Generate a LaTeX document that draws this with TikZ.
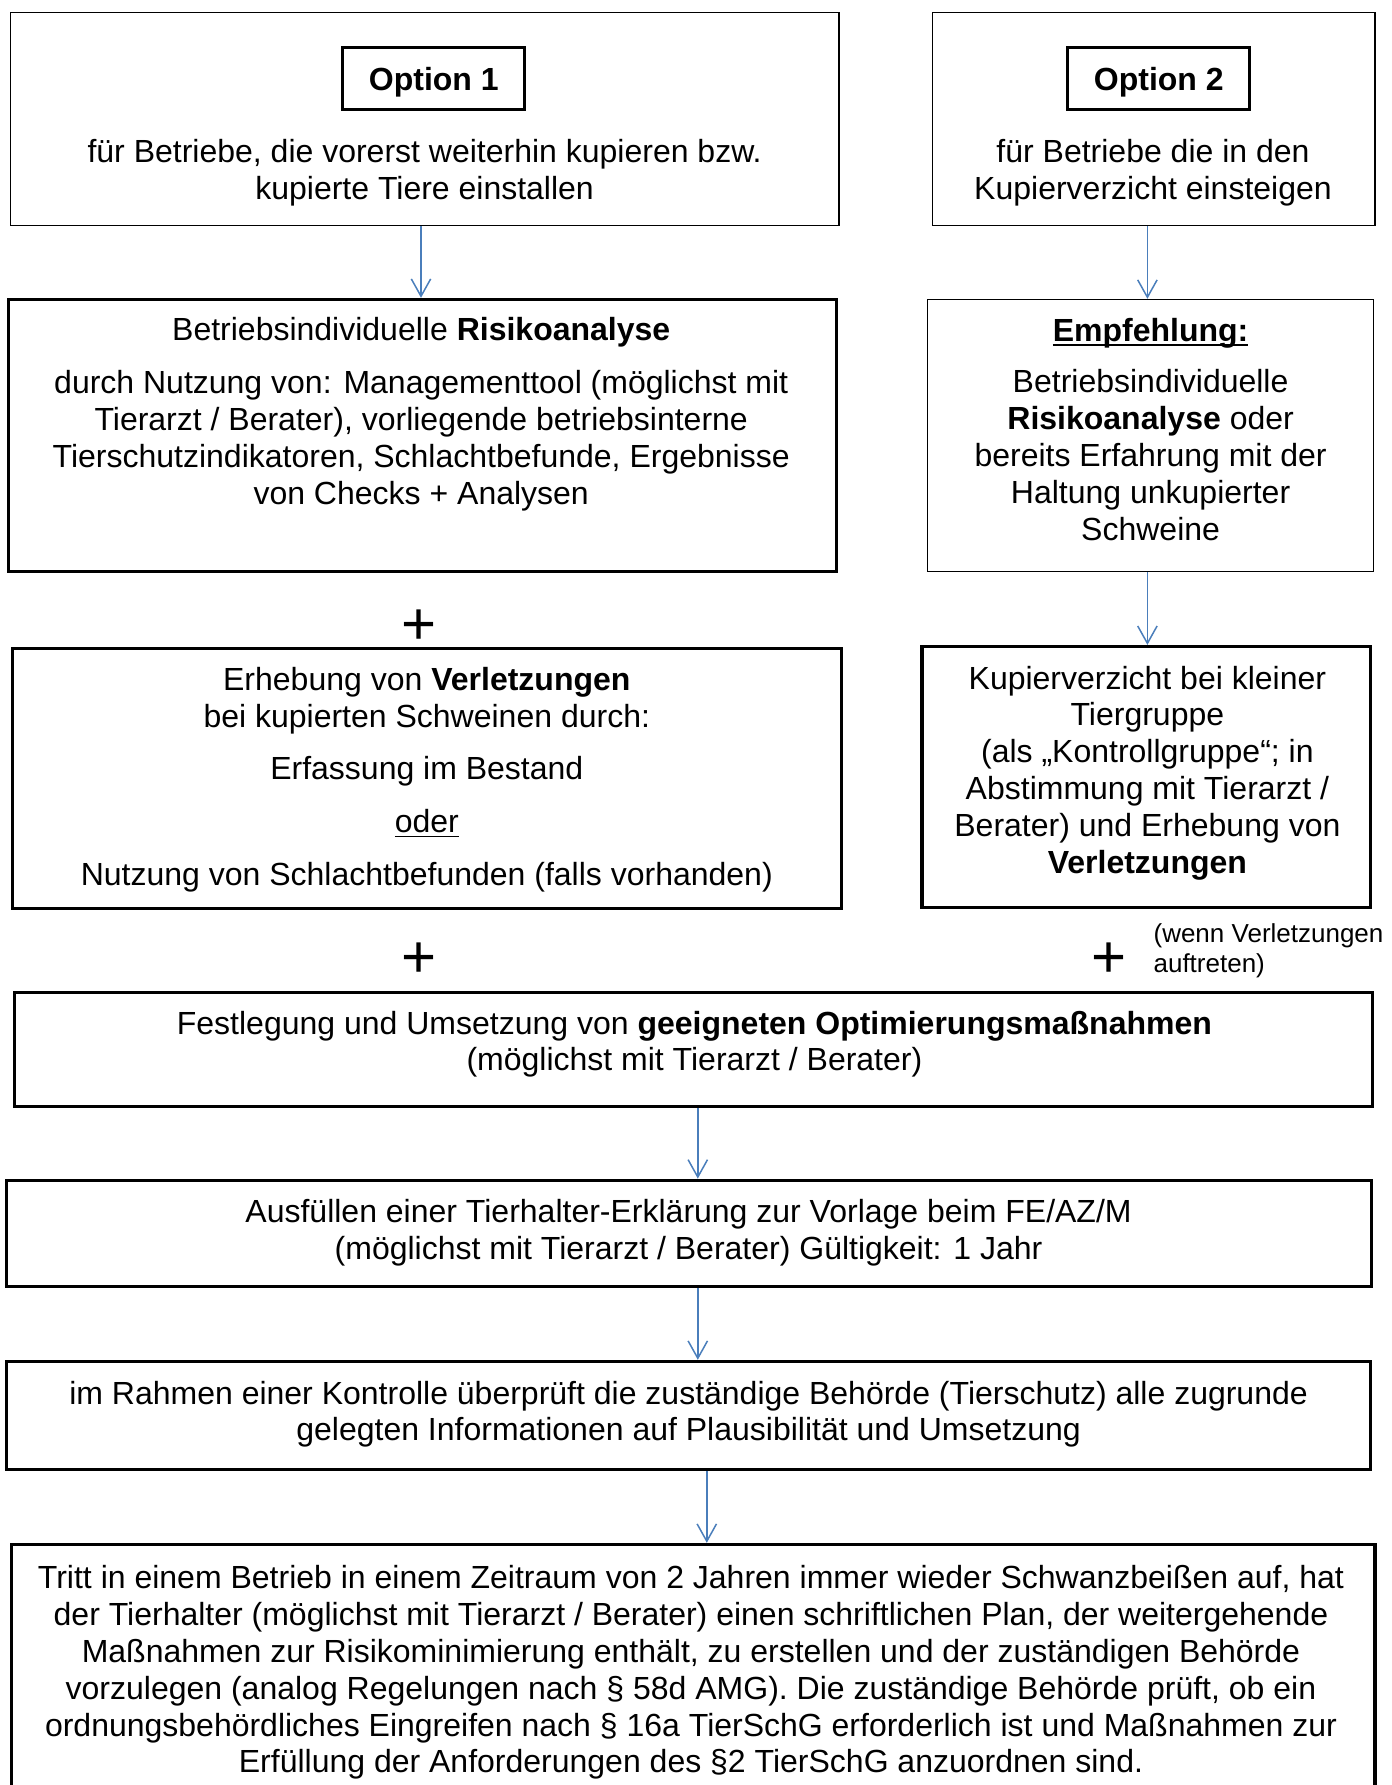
\documentclass[tikz,border=0pt]{standalone}
\usepackage{fontspec}
\setmainfont{Liberation Sans}
\usetikzlibrary{arrows.meta}
\definecolor{flowblue}{RGB}{74,126,187}
% underline with a rule of given thickness
\newcommand{\ulword}[2][0.7pt]{\setbox0\hbox{#2}\rlap{\rule[-2.4pt]{\wd0}{#1}}\box0}

\begin{document}
\begin{tikzpicture}[x=1pt,y=-1pt,
    thinbox/.style={draw,line width=0.6pt,inner sep=0pt},
    thickbox/.style={draw,line width=1.6pt,inner sep=0pt},
    txt/.style={align=center,inner sep=0pt,yshift=-1.4pt,font=\fontsize{16}{18.4}\selectfont},
    optbox/.style={thickbox,text height=15pt,text depth=3.5pt,font=\fontsize{16}{18.4}\selectfont\bfseries},
    plus/.style={inner sep=0pt,yshift=-2.3pt,font=\fontsize{30}{30}\selectfont},
    note/.style={align=left,inner sep=0pt,yshift=-1.4pt,font=\fontsize{13}{14.8}\selectfont},
    flow/.style={flowblue,line width=0.75pt,-{Straight Barb[length=8.7pt,width=9.7pt]}}]
		\useasboundingbox (0,0) rectangle (696,892.5);
		\clip (0,0) rectangle (696,892.5); % last box runs off the page

		% column positions of the arrows
		\coordinate (colA) at (210.5,0);
		\coordinate (colB) at (573.7,0);
		\coordinate (colG) at (348.9,0);
		\coordinate (colI) at (353.4,0);

		% Option 1 column
		\node[thinbox,minimum width=414.4pt,minimum height=106.5pt] (boxA) at (212.3,59.5) {};
		\node[optbox,minimum width=91pt,minimum height=30.8pt] (optA) at (216.9,39.3) {Option 1};
		\node[txt] (txtA) at (212.3,85.1) {für Betriebe, die vorerst weiterhin kupieren bzw.\\kupierte Tiere einstallen};

		\node[thickbox,minimum width=414.3pt,minimum height=136pt] (boxC) at (211.2,217.7) {};
		\node[txt] (txtC) at (210.6,205.7) {Betriebsindividuelle \textbf{Risikoanalyse}\\[8pt]
			durch Nutzung von: Managementtool (möglichst mit\\Tierarzt / Berater), vorliegende betriebsinterne\\
			Tierschutzindikatoren, Schlachtbefunde, Ergebnisse\\von Checks + Analysen};

		\node[plus] (plusA) at (209.5,311.3) {+};

		\node[thickbox,minimum width=414.3pt,minimum height=129.8pt] (boxE) at (213.4,389.3) {};
		\node[txt] (txtE) at (213.4,388.4) {Erhebung von \textbf{Verletzungen}\\bei kupierten Schweinen durch:\\[8pt]
			Erfassung im Bestand\\[8pt]\ulword{oder}\\[8pt]Nutzung von Schlachtbefunden (falls vorhanden)};

		\node[plus] (plusE) at (209.5,478) {+};

		% Option 2 column
		\node[thinbox,minimum width=221.4pt,minimum height=106.5pt] (boxB) at (576.8,59.5) {};
		\node[optbox,minimum width=91pt,minimum height=30.8pt] (optB) at (579.4,39.3) {Option 2};
		\node[txt] (txtB) at (576.5,85.1) {für Betriebe die in den\\Kupierverzicht einsteigen};

		\node[thinbox,minimum width=223.1pt,minimum height=136pt] (boxD) at (575.3,217.7) {};
		\node[txt] (txtD) at (575.3,213.2) {\ulword[1.2pt]{\textbf{Empfehlung:}}\\[7.5pt]
			Betriebsindividuelle\\\textbf{Risikoanalyse} oder\\bereits Erfahrung mit der\\Haltung unkupierter\\Schweine};

		\node[thickbox,minimum width=224.3pt,minimum height=130.3pt] (boxF) at (573.1,388.4) {};
		\node[txt] (txtF) at (573.7,385) {Kupierverzicht bei kleiner\\Tiergruppe\\(als „Kontrollgruppe“; in\\
			Abstimmung mit Tierarzt /\\Berater) und Erhebung von\\\textbf{Verletzungen}};

		\node[plus] (plusF) at (554.7,478) {+};
		\node[note,anchor=west] (noteF) at (576.6,474.1) {(wenn Verletzungen\\auftreten)};

		% common part
		\node[thickbox,minimum width=679pt,minimum height=56.9pt] (boxG) at (346.9,524.7) {};
		\node[txt] (txtG) at (347.2,520.7) {Festlegung und Umsetzung von \textbf{geeigneten Optimierungsmaßnahmen}\\
			(möglichst mit Tierarzt / Berater)};

		\node[thickbox,minimum width=682.4pt,minimum height=53pt] (boxH) at (344.6,616.6) {};
		\node[txt] (txtH) at (344.3,614.9) {Ausfüllen einer Tierhalter-Erklärung zur Vorlage beim FE/AZ/M\\
			(möglichst mit Tierarzt / Berater) Gültigkeit: 1 Jahr};

		\node[thickbox,minimum width=681.8pt,minimum height=54pt] (boxI) at (344.3,707.7) {};
		\node[txt] (txtI) at (344.3,705.7) {im Rahmen einer Kontrolle überprüft die zuständige Behörde (Tierschutz) alle zugrunde\\
			gelegten Informationen auf Plausibilität und Umsetzung};

		\node[thickbox,minimum width=681.8pt,minimum height=147.8pt] (boxJ) at (346.6,846.1) {};
		\node[txt] (txtJ) at (345.5,834.9) {Tritt in einem Betrieb in einem Zeitraum von 2 Jahren immer wieder Schwanzbeißen auf, hat\\
			der Tierhalter (möglichst mit Tierarzt / Berater) einen schriftlichen Plan, der weitergehende\\
			Maßnahmen zur Risikominimierung enthält, zu erstellen und der zuständigen Behörde\\
			vorzulegen (analog Regelungen nach § 58d AMG). Die zuständige Behörde prüft, ob ein\\
			ordnungsbehördliches Eingreifen nach § 16a TierSchG erforderlich ist und Maßnahmen zur\\
			Erfüllung der Anforderungen des §2 TierSchG anzuordnen sind.};

		% arrows
		\draw[flow] (boxA.south -| colA) -- (boxC.north -| colA);
		\draw[flow] (boxB.south -| colB) -- (boxD.north -| colB);
		\draw[flow] (boxD.south -| colB) -- (boxF.north -| colB);
		\draw[flow] (boxG.south -| colG) -- (boxH.north -| colG);
		\draw[flow] (boxH.south -| colG) -- (boxI.north -| colG);
		\draw[flow] (boxI.south -| colI) -- (boxJ.north -| colI);
\end{tikzpicture}
\end{document}
